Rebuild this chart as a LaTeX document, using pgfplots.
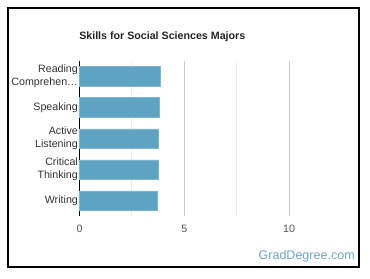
\documentclass[border=0pt]{standalone}
\usepackage{pgfplots}
\pgfplotsset{compat=1.18}
\usepackage{fontspec}
\setmainfont{Liberation Sans}
\definecolor{barblue}{HTML}{5EA3C1}
\definecolor{baredge}{HTML}{7DB6CE}
\definecolor{wm}{HTML}{6FA6C8}
\definecolor{lbl}{HTML}{333333}
\definecolor{tck}{HTML}{555555}
\begin{document}
\begin{tikzpicture}
\fill[white] (0,0) rectangle (277.5pt,208.5pt);
\draw[black, line width=1.2pt] (6pt,8.25pt) rectangle (269.25pt,202.5pt);
\node[anchor=west, inner sep=0pt, font=\fontsize{8}{9.6}\selectfont\bfseries, text=black!85] at (59.25pt,180.75pt) {Skills for Social Sciences Majors};
\node[anchor=east, inner sep=0pt, font=\fontsize{9.4}{11}\selectfont, text=wm] at (266.25pt,16.5pt) {GradDegree.com};
\begin{axis}[
  at={(59.6pt,46.5pt)}, anchor=south west,
  scale only axis, width=188.6pt, height=116.25pt,
  xmin=0, xmax=12, ymin=-0.5, ymax=4.5, y dir=reverse,
  xtick={0,5,10}, minor xtick={2.5,7.5},
  xmajorgrids, xminorgrids,
  major grid style={draw=black!20, line width=0.6pt},
  minor grid style={draw=black!8, line width=0.6pt},
  ytick={0,1,2,3,4},
  yticklabels={Reading\\Comprehen…, Speaking, Active\\Listening, Critical\\Thinking, Writing},
  yticklabel style={align=right, font=\fontsize{8}{9.5}\selectfont, text=lbl, inner sep=1pt},
  xticklabel style={font=\fontsize{8}{9.6}\selectfont, text=tck, yshift=-3pt},
  /pgf/number format/assume math mode=true,
  axis x line*=bottom,
  x axis line style={draw=none},
  axis y line*=left,
  y axis line style={black, line width=0.8pt, -},
  major tick length=0pt, minor tick length=0pt,
  xbar, bar width=14.6pt,
  clip=false,
]
\addplot[fill=barblue, draw=baredge, line width=0.4pt] coordinates {
 (3.87,0) (3.82,1) (3.77,2) (3.77,3) (3.72,4)};
\end{axis}
\end{tikzpicture}
\end{document}
